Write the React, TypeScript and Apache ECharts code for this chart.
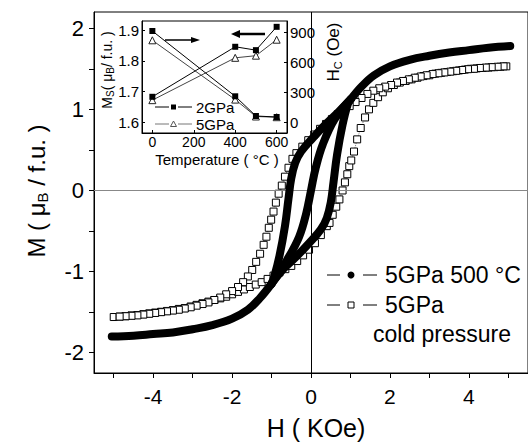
import React, { useEffect, useRef } from "react";
import * as echarts from "echarts";

// ---------- Main panel data: M (μB/f.u.) vs H (kOe) ----------
// 5GPa cold pressure (open squares) — ascending branch (H from -5 to +5)
const coldAscH = [-5.0, -4.85, -4.7, -4.55, -4.4, -4.25, -4.1, -3.95, -3.8, -3.65, -3.5, -3.35, -3.2, -3.05, -2.9, -2.75, -2.6, -2.45, -2.3, -2.15, -2.0, -1.85, -1.7, -1.55, -1.4, -1.25, -1.1, -0.95, -0.8, -0.65, -0.5, -0.35, -0.2, -0.05, 0.1, 0.25, 0.4, 0.47, 0.55, 0.64, 0.72, 0.8, 0.86, 0.92, 0.97, 1.02, 1.09, 1.17, 1.26, 1.37, 1.47, 1.58, 1.7, 1.82, 1.95, 2.1, 2.25, 2.4, 2.55, 2.7, 2.85, 3.0, 3.15, 3.3, 3.45, 3.6, 3.75, 3.9, 4.05, 4.2, 4.35, 4.5, 4.65, 4.8, 4.95];
const coldAscM = [-1.56, -1.555, -1.55, -1.54, -1.535, -1.525, -1.515, -1.505, -1.495, -1.485, -1.475, -1.46, -1.45, -1.43, -1.41, -1.39, -1.37, -1.35, -1.33, -1.31, -1.28, -1.25, -1.22, -1.19, -1.16, -1.13, -1.09, -1.05, -1.01, -0.97, -0.93, -0.87, -0.8, -0.73, -0.65, -0.55, -0.44, -0.4, -0.3, -0.2, -0.11, 0.0, 0.1, 0.2, 0.3, 0.37, 0.48, 0.63, 0.77, 0.9, 1.0, 1.08, 1.15, 1.21, 1.26, 1.3, 1.33, 1.35, 1.37, 1.39, 1.41, 1.42, 1.44, 1.45, 1.46, 1.47, 1.48, 1.49, 1.5, 1.505, 1.51, 1.515, 1.52, 1.525, 1.53];
// descending branch (H from +5 to -5)
const coldDescH = [4.88, 4.73, 4.58, 4.43, 4.28, 4.13, 3.98, 3.83, 3.68, 3.53, 3.38, 3.23, 3.08, 2.93, 2.78, 2.63, 2.48, 2.33, 2.18, 2.03, 1.88, 1.73, 1.58, 1.43, 1.28, 1.13, 0.98, 0.83, 0.68, 0.53, 0.38, 0.23, 0.08, -0.07, -0.22, -0.37, -0.47, -0.57, -0.66, -0.74, -0.82, -0.89, -0.95, -1.01, -1.07, -1.13, -1.2, -1.29, -1.39, -1.49, -1.6, -1.72, -1.85, -2.0, -2.15, -2.3, -2.45, -2.6, -2.75, -2.9, -3.05, -3.2, -3.35, -3.5, -3.65, -3.8, -3.95, -4.1, -4.25, -4.4, -4.55, -4.7, -4.85];
const coldDescM = [1.53, 1.525, 1.52, 1.515, 1.51, 1.5, 1.495, 1.485, 1.475, 1.465, 1.455, 1.445, 1.435, 1.42, 1.405, 1.39, 1.37, 1.35, 1.33, 1.3, 1.28, 1.26, 1.23, 1.19, 1.14, 1.09, 1.04, 0.99, 0.94, 0.88, 0.82, 0.76, 0.69, 0.62, 0.54, 0.46, 0.39, 0.28, 0.17, 0.06, -0.04, -0.15, -0.26, -0.36, -0.46, -0.57, -0.67, -0.78, -0.88, -0.98, -1.06, -1.13, -1.19, -1.24, -1.28, -1.32, -1.35, -1.38, -1.4, -1.42, -1.44, -1.455, -1.47, -1.48, -1.49, -1.5, -1.51, -1.52, -1.53, -1.54, -1.545, -1.55, -1.555];

// 5GPa 500 °C (filled circles, dense band)
const annTailPosH = [5.05, 4.5, 4.0, 3.5, 3.0, 2.5, 2.0, 1.6, 1.3, 1.0];
const annTailPosM = [1.78, 1.76, 1.73, 1.7, 1.66, 1.61, 1.53, 1.42, 1.29, 1.12];
const annTailNegH = [-5.05, -4.5, -4.0, -3.5, -3.0, -2.5, -2.0, -1.6, -1.3, -1.0];
const annTailNegM = [-1.8, -1.79, -1.77, -1.75, -1.71, -1.66, -1.58, -1.47, -1.33, -1.15];
const annUpperH = [1.0, 0.7, 0.4, 0.05, -0.25, -0.4, -0.5, -0.57, -0.66, -0.8, -0.93, -1.0];
const annUpperM = [1.12, 0.97, 0.83, 0.65, 0.48, 0.34, 0.15, -0.1, -0.44, -0.81, -1.06, -1.15];
const annLowerH = [-1.0, -0.7, -0.4, -0.05, 0.25, 0.4, 0.5, 0.57, 0.66, 0.8, 0.93, 1.0];
const annLowerM = [-1.15, -0.97, -0.83, -0.65, -0.48, -0.34, -0.15, 0.1, 0.44, 0.81, 1.06, 1.12];
const annInnerH = [-1.0, -0.6, -0.3, -0.12, 0.0, 0.12, 0.3, 0.6, 1.0];
const annInnerM = [-1.15, -0.85, -0.57, -0.28, 0.0, 0.28, 0.57, 0.88, 1.12];

// ---------- Inset data ----------
const insetTemps = [0, 400, 500, 600];
const ms2GPa = [1.683, 1.846, 1.835, 1.911];
const ms5GPa = [1.672, 1.81, 1.817, 1.869];
const hc2GPa = [910, 257, 60, 50];
const hc5GPa = [817, 224, 55, 48];

// tick labels
const mainXLabels = [-4, -2, 0, 2, 4];
const mainXTicks = [-5, -4, -3, -2, -1, 0, 1, 2, 3, 4, 5];
const mainYLabels = [-2, -1, 0, 1, 2];
const mainYTicks = [-2, -1.5, -1, -0.5, 0, 0.5, 1, 1.5, 2];
const insetXLabels = [0, 200, 400, 600];
const insetMsLabels = [1.6, 1.7, 1.8, 1.9];
const insetHcLabels = [0, 300, 600, 900];

const zip = (a: number[], b: number[]) => a.map((v, i) => [v, b[i]]);

const FONT = "Liberation Sans, Arial, sans-serif";

export default function App() {
  const ref = useRef<HTMLDivElement>(null);
  useEffect(() => {
    if (!ref.current) return;
    const chart = echarts.init(ref.current, undefined, { renderer: "svg" });

    const band = (h: number[], m: number[]) => ({
      type: "line",
      xAxisIndex: 0,
      yAxisIndex: 0,
      data: zip(h, m),
      symbol: "none",
      smooth: 0.4,
      z: 5,
      lineStyle: { color: "#000", width: 8, cap: "round", join: "round" },
    });
    const cold = (h: number[], m: number[]) => ({
      type: "line",
      xAxisIndex: 0,
      yAxisIndex: 0,
      data: zip(h, m),
      symbol: "rect",
      symbolSize: 7,
      z: 3,
      itemStyle: { color: "#fff", borderColor: "#000", borderWidth: 1 },
      lineStyle: { color: "#777", width: 1, type: "dotted" },
    });
    const insetS = (y: number[], yIdx: number, filled: boolean) => ({
      type: "line",
      xAxisIndex: 1,
      yAxisIndex: yIdx,
      data: zip(insetTemps, y),
      symbol: filled ? "rect" : "triangle",
      symbolSize: filled ? 6 : 7,
      z: filled ? 4 : 3,
      itemStyle: filled
        ? { color: "#000" }
        : { color: "#fff", borderColor: "#222", borderWidth: 1 },
      lineStyle: { color: filled ? "#000" : "#444", width: 1 },
    });

    const txt = (size: number) => ({ fontSize: size, fontFamily: FONT, color: "#000" });

    chart.setOption({
      animation: false,
      backgroundColor: "#fff",
      grid: [
        { left: 94, top: 12, right: -10, bottom: 70, show: true, borderColor: "#000", borderWidth: 1, backgroundColor: "transparent" },
        { left: 142, top: 21, width: 145, height: 112, show: true, borderColor: "#000", borderWidth: 1, backgroundColor: "#fff" },
      ],
      xAxis: [
        {
          type: "value", gridIndex: 0, min: -5.5, max: 5.5,
          axisLine: { show: true, onZero: false, lineStyle: { color: "#000", width: 1 } },
          axisTick: { show: true, inside: false, length: 5, customValues: mainXTicks, lineStyle: { color: "#000" } },
          axisLabel: { customValues: mainXLabels, margin: 13, ...txt(21) },
          splitLine: { show: false },
        },
        {
          type: "value", gridIndex: 1, min: -50, max: 650,
          axisLine: { show: true, onZero: false, lineStyle: { color: "#000" } },
          axisTick: { show: true, inside: true, length: 3, customValues: insetXLabels, lineStyle: { color: "#000" } },
          axisLabel: { customValues: insetXLabels, margin: 2, ...txt(14) },
          splitLine: { show: false },
        },
      ],
      yAxis: [
        {
          type: "value", gridIndex: 0, min: -2.25, max: 2.2,
          axisLine: { show: true, onZero: false, lineStyle: { color: "#000", width: 1 } },
          axisTick: { show: true, inside: false, length: 5, customValues: mainYTicks, lineStyle: { color: "#000" } },
          axisLabel: { customValues: mainYLabels, margin: 10, ...txt(22) },
          splitLine: { show: false },
        },
        {
          type: "value", gridIndex: 1, min: 1.565, max: 1.93, position: "left",
          axisLine: { show: true, onZero: false, lineStyle: { color: "#000" } },
          axisTick: { show: true, inside: true, length: 3, customValues: insetMsLabels, lineStyle: { color: "#000" } },
          axisLabel: { customValues: insetMsLabels, margin: 3, formatter: (v: number) => v.toFixed(1), ...txt(15) },
          splitLine: { show: false },
        },
        {
          type: "value", gridIndex: 1, min: -110, max: 1010, position: "right",
          axisLine: { show: true, onZero: false, lineStyle: { color: "#000" } },
          axisTick: { show: true, inside: true, length: 3, customValues: insetHcLabels, lineStyle: { color: "#000" } },
          axisLabel: { customValues: insetHcLabels, margin: 3, ...txt(15) },
          splitLine: { show: false },
        },
      ],
      series: [
        {
          ...cold(coldAscH, coldAscM),
          markLine: {
            silent: true,
            symbol: ["none", "none"],
            label: { show: false },
            data: [
              { yAxis: 0, lineStyle: { color: "#888", width: 1, type: "solid" } },
              { xAxis: 0, lineStyle: { color: "#000", width: 1, type: "solid" } },
            ],
          },
        },
        cold(coldDescH, coldDescM),
        band(annTailPosH, annTailPosM),
        band(annTailNegH, annTailNegM),
        band(annUpperH, annUpperM),
        band(annLowerH, annLowerM),
        band(annInnerH, annInnerM),
        insetS(ms5GPa, 1, false),
        insetS(hc5GPa, 2, false),
        insetS(ms2GPa, 1, true),
        insetS(hc2GPa, 2, true),
      ],
      graphic: [
        // main axis titles
        {
          type: "text", x: 36, y: 191, rotation: Math.PI / 2,
          style: {
            text: "{a|M ( μ}{s|B}{a| / f.u. )}",
            align: "center", verticalAlign: "middle",
            rich: {
              a: { fontSize: 24, fontFamily: FONT, fill: "#000", lineHeight: 28 },
              s: { fontSize: 15, fontFamily: FONT, fill: "#000", lineHeight: 14, verticalAlign: "bottom" },
            },
          },
        },
        {
          type: "text", x: 316, y: 428,
          style: { text: "H ( KOe)", fontSize: 25, fontFamily: FONT, fill: "#000", align: "center", verticalAlign: "middle" },
        },
        // inset titles
        {
          type: "text", x: 217, y: 159,
          style: { text: "Temperature ( °C )", fontSize: 15, fontFamily: FONT, fill: "#000", align: "center", verticalAlign: "middle" },
        },
        {
          type: "text", x: 107, y: 70, rotation: Math.PI / 2,
          style: {
            text: "{a|M}{s|S}{a|( μ}{s|B}{a|/ f.u. )}",
            align: "center", verticalAlign: "middle",
            rich: {
              a: { fontSize: 14, fontFamily: FONT, fill: "#000", lineHeight: 16 },
              s: { fontSize: 10, fontFamily: FONT, fill: "#000", lineHeight: 9, verticalAlign: "bottom" },
            },
          },
        },
        {
          type: "text", x: 333, y: 52, rotation: Math.PI / 2,
          style: {
            text: "{a|H}{s|C}{a| (Oe)}",
            align: "center", verticalAlign: "middle",
            rich: {
              a: { fontSize: 17, fontFamily: FONT, fill: "#000", lineHeight: 20 },
              s: { fontSize: 11, fontFamily: FONT, fill: "#000", lineHeight: 10, verticalAlign: "bottom" },
            },
          },
        },
        // inset arrows
        { type: "line", shape: { x1: 165, y1: 40, x2: 193, y2: 40 }, style: { stroke: "#000", lineWidth: 1.5 } },
        { type: "polygon", shape: { points: [[200, 40], [191, 37], [191, 43]] }, style: { fill: "#000" } },
        { type: "line", shape: { x1: 238, y1: 34, x2: 265, y2: 34 }, style: { stroke: "#000", lineWidth: 2.5 } },
        { type: "polygon", shape: { points: [[231, 34], [240, 30], [240, 38]] }, style: { fill: "#000" } },
        // inset legend
        { type: "line", shape: { x1: 155, y1: 107, x2: 169, y2: 107 }, style: { stroke: "#000", lineWidth: 1 } },
        { type: "rect", shape: { x: 171, y: 104.5, width: 5, height: 5 }, style: { fill: "#000" } },
        { type: "line", shape: { x1: 178, y1: 107, x2: 192, y2: 107 }, style: { stroke: "#000", lineWidth: 1 } },
        { type: "text", x: 196, y: 107, style: { text: "2GPa", fontSize: 15, fontFamily: FONT, fill: "#000", verticalAlign: "middle" } },
        { type: "line", shape: { x1: 155, y1: 124, x2: 169, y2: 124 }, style: { stroke: "#777", lineWidth: 1 } },
        { type: "polygon", shape: { points: [[173.5, 121], [170.5, 126.5], [176.5, 126.5]] }, style: { fill: "#fff", stroke: "#555", lineWidth: 1 } },
        { type: "line", shape: { x1: 178, y1: 124, x2: 192, y2: 124 }, style: { stroke: "#777", lineWidth: 1 } },
        { type: "text", x: 196, y: 124, style: { text: "5GPa", fontSize: 15, fontFamily: FONT, fill: "#000", verticalAlign: "middle" } },
        // main legend
        { type: "line", shape: { x1: 327, y1: 275, x2: 340, y2: 275 }, style: { stroke: "#000", lineWidth: 1 } },
        { type: "circle", shape: { cx: 351, cy: 275, r: 3.5 }, style: { fill: "#000" } },
        { type: "line", shape: { x1: 363, y1: 275, x2: 377, y2: 275 }, style: { stroke: "#000", lineWidth: 1 } },
        { type: "text", x: 385, y: 275, style: { text: "5GPa 500 °C", fontSize: 23, fontFamily: FONT, fill: "#000", verticalAlign: "middle" } },
        { type: "line", shape: { x1: 327, y1: 305, x2: 340, y2: 305 }, style: { stroke: "#000", lineWidth: 1 } },
        { type: "rect", shape: { x: 348, y: 302, width: 6, height: 6 }, style: { fill: "#fff", stroke: "#000", lineWidth: 1 } },
        { type: "line", shape: { x1: 363, y1: 305, x2: 377, y2: 305 }, style: { stroke: "#000", lineWidth: 1 } },
        { type: "text", x: 385, y: 305, style: { text: "5GPa", fontSize: 23, fontFamily: FONT, fill: "#000", verticalAlign: "middle" } },
        { type: "text", x: 373, y: 334, style: { text: "cold pressure", fontSize: 23, fontFamily: FONT, fill: "#000", verticalAlign: "middle" } },
      ],
    });
    return () => chart.dispose();
  }, []);
  return (
    <div
      ref={ref}
      style={{ position: "fixed", left: 0, top: 0, width: 528, height: 443, background: "#fff" }}
    />
  );
}
